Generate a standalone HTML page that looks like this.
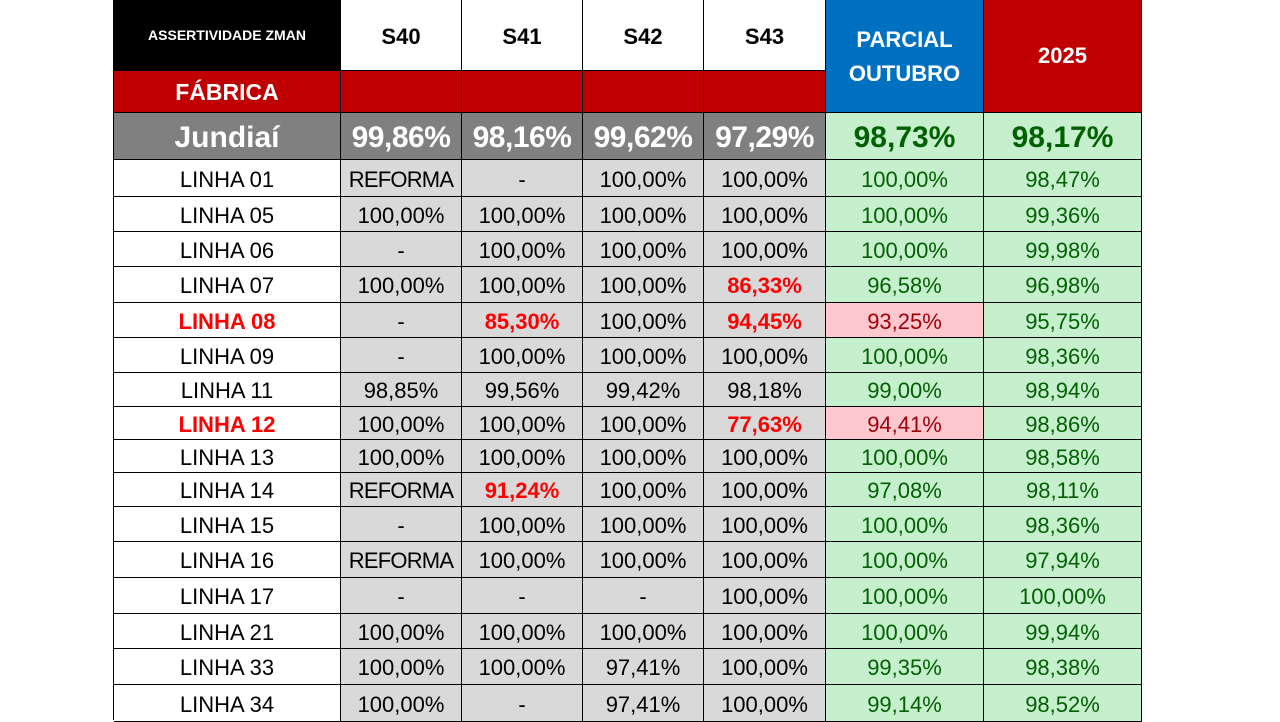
<!DOCTYPE html>
<html><head><meta charset="utf-8"><style>
html,body{margin:0;padding:0;width:1280px;height:720px;background:#fff;overflow:hidden}
#t{position:absolute;left:0;top:0;width:1280px;height:720px;font-family:"Liberation Sans",sans-serif}
.c{position:absolute;box-sizing:border-box;border-right:1px solid #000;border-bottom:1px solid #000;display:flex;align-items:center;justify-content:center;text-align:center;white-space:nowrap;overflow:hidden}
</style></head><body>
<div id="t"></div>
<script>
const colX=[114,341,462,583,704,826,984,1142];
const rowY=[159,196,231,266,302,337,372,406,439,472,506,541,577,613,648,684,721];
const lines=["LINHA 01","LINHA 05","LINHA 06","LINHA 07","LINHA 08","LINHA 09","LINHA 11","LINHA 12","LINHA 13","LINHA 14","LINHA 15","LINHA 16","LINHA 17","LINHA 21","LINHA 33","LINHA 34"];
const s40=["REFORMA","100,00%","-","100,00%","-","-","98,85%","100,00%","100,00%","REFORMA","-","REFORMA","-","100,00%","100,00%","100,00%"];
const s41=["-","100,00%","100,00%","100,00%","85,30%","100,00%","99,56%","100,00%","100,00%","91,24%","100,00%","100,00%","-","100,00%","100,00%","-"];
const s42=["100,00%","100,00%","100,00%","100,00%","100,00%","100,00%","99,42%","100,00%","100,00%","100,00%","100,00%","100,00%","-","100,00%","97,41%","97,41%"];
const s43=["100,00%","100,00%","100,00%","86,33%","94,45%","100,00%","98,18%","77,63%","100,00%","100,00%","100,00%","100,00%","100,00%","100,00%","100,00%","100,00%"];
const parcial=["100,00%","100,00%","100,00%","96,58%","93,25%","100,00%","99,00%","94,41%","100,00%","97,08%","100,00%","100,00%","100,00%","100,00%","99,35%","99,14%"];
const y2025=["98,47%","99,36%","99,98%","96,98%","95,75%","98,36%","98,94%","98,86%","98,58%","98,11%","98,36%","97,94%","100,00%","99,94%","98,38%","98,52%"];
const weeks=["S40","S41","S42","S43"];
const jund=["99,86%","98,16%","99,62%","97,29%"];
const jundParcial="98,73%", jund2025="98,17%";
const T=document.getElementById('t');
function cell(x0,x1,y0,y1,txt,st,name){
  const d=document.createElement('div');d.className='c';
  
  
  d.style.left=x0+'px';d.style.top=y0+'px';d.style.width=(x1-x0)+'px';d.style.height=(y1-y0)+'px';
  Object.assign(d.style,st);d.innerHTML=txt;T.appendChild(d);return d;
}
cell(colX[0],colX[1],0,71,"ASSERTIVIDADE ZMAN",{background:"#000",color:"#fff",fontWeight:"bold",fontSize:"14px"},"title-cell");
weeks.forEach((w,i)=>cell(colX[i+1],colX[i+2],0,71,w,{background:"#fff",fontWeight:"bold",fontSize:"22px",paddingTop:"3px"},"header-"+w.toLowerCase()));
cell(colX[5],colX[6],0,113,"PARCIAL<br>OUTUBRO",{background:"#0070c0",color:"#fff",fontWeight:"bold",fontSize:"22px",lineHeight:"34px",paddingTop:"2px"},"header-parcial-outubro");
cell(colX[6],colX[7],0,113,"2025",{background:"#c00000",color:"#fff",fontWeight:"bold",fontSize:"22px"},"header-2025");
cell(colX[0],colX[1],71,113,"FÁBRICA",{background:"#c00000",color:"#fff",fontWeight:"bold",fontSize:"23px",paddingTop:"2px"},"fabrica-label");
for(let i=1;i<5;i++)cell(colX[i],colX[i+1],71,113,"",{background:"#c00000"},"fabrica-cell");
cell(colX[0],colX[1],113,160,"Jundiaí",{background:"#808080",color:"#fff",fontWeight:"bold",fontSize:"30px",paddingTop:"3px"},"jundiai-label");
jund.forEach((v,i)=>cell(colX[i+1],colX[i+2],113,160,v,{background:"#808080",color:"#fff",fontWeight:"bold",fontSize:"30px",letterSpacing:"-0.5px",paddingTop:"3px"},"jundiai-"+weeks[i].toLowerCase()));
cell(colX[5],colX[6],113,160,jundParcial,{background:"#c6efce",color:"#006100",fontWeight:"bold",fontSize:"30px",paddingTop:"3px"},"jundiai-parcial");
cell(colX[6],colX[7],113,160,jund2025,{background:"#c6efce",color:"#006100",fontWeight:"bold",fontSize:"30px",paddingTop:"3px"},"jundiai-2025");
const red=["LINHA 08","LINHA 12"];
const wk=[s40,s41,s42,s43];
const lowThresh=95;
function num(v){return parseFloat(v.replace(',','.').replace('%',''));}
lines.forEach((ln,r)=>{
  const y0=rowY[r]+1,y1=rowY[r+1]+1;
  const isRed=red.includes(ln);
  const base={fontSize:"22px",paddingTop:"3px"};
  cell(colX[0],colX[1],y0,y1,ln,Object.assign({background:"#fff",color:isRed?"#ff0000":"#000",fontWeight:isRed?"bold":"normal"},base),"line-label");
  wk.forEach((arr,i)=>{
    const v=arr[r];const low=!isNaN(num(v))&&num(v)<lowThresh;
    cell(colX[i+1],colX[i+2],y0,y1,v,Object.assign({background:"#d9d9d9",color:low?"#ff0000":"#000",fontWeight:low?"bold":"normal",letterSpacing:v==="REFORMA"?"-0.8px":"0"},base),"cell-"+weeks[i].toLowerCase());
  });
  const pl=num(parcial[r])<95;
  cell(colX[5],colX[6],y0,y1,parcial[r],Object.assign({background:pl?"#ffc7ce":"#c6efce",color:pl?"#9c0006":"#006100"},base),"cell-parcial");
  cell(colX[6],colX[7],y0,y1,y2025[r],Object.assign({background:"#c6efce",color:"#006100"},base),"cell-2025");
});
const lb=document.createElement('div');


lb.style.cssText="position:absolute;left:113px;top:0;width:1px;height:720px;background:#000";T.appendChild(lb);
</script>
</body></html>
